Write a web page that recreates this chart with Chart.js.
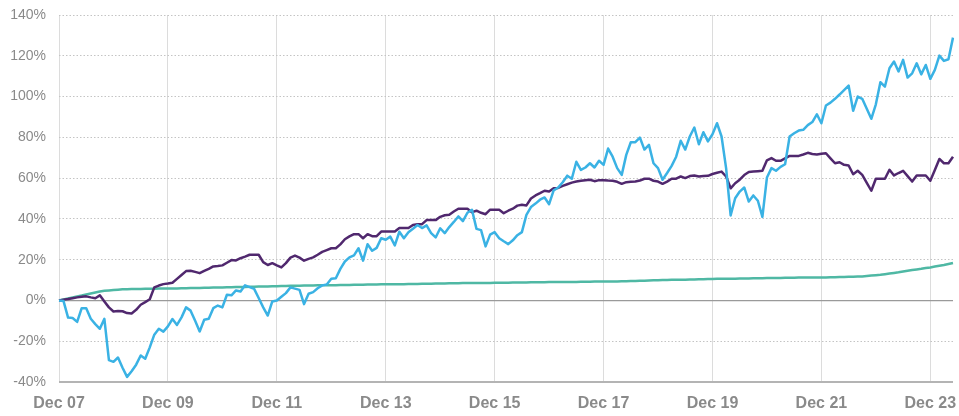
<!DOCTYPE html>
<html>
<head>
<meta charset="utf-8">
<script src="https://cdn.jsdelivr.net/npm/chart.js@4/dist/chart.umd.min.js"></script>
<style>
  html, body { margin: 0; padding: 0; background: #fff; }
  #wrap { width: 959px; height: 416px; position: relative; }
</style>
</head>
<body>
<div id="wrap"><canvas id="perfChart"></canvas></div>
<script>
// Monthly points, Dec 2007 to May 2024
const monthNames = ['Jan', 'Feb', 'Mar', 'Apr', 'May', 'Jun', 'Jul', 'Aug', 'Sep', 'Oct', 'Nov', 'Dec'];
const categories = [];
for (let i = 0; i < 198; i++) {
    const m = (11 + i) % 12;
    const y = 2007 + Math.floor((11 + i) / 12);
    categories.push(monthNames[m] + ' ' + String(y).slice(2));
}

// Tick labels shown on the x axis
const tickLabels = ['Dec 07', 'Dec 09', 'Dec 11', 'Dec 13', 'Dec 15', 'Dec 17', 'Dec 19', 'Dec 21', 'Dec 23'];

// Cumulative return, %
const blueSeries = [
    0, -0.3, -8.4, -8.6, -10.5, -3.8, -3.8, -9, -11.6, -13.9,
    -9, -29.3, -30.1, -28, -33, -37.5, -34.7, -31.5, -27, -28.6,
    -23, -16.8, -13.9, -15.3, -12.7, -9.1, -12, -8.3, -3.4, -5,
    -10, -15.2, -9.5, -9, -3.8, -2.5, -3.4, 2.8, 2.5, 4.9,
    4.4, 7.4, 6.5, 5.7, 1.2, -3.4, -7.4, -0.5, 0, 1.8,
    3.6, 6.4, 5.8, 5.2, -1.8, 3.3, 4.1, 6, 7.4, 7.8,
    10.6, 10.9, 15.5, 19.1, 21.1, 22.1, 25.6, 19.5, 27.6, 24.4,
    25.8, 30.5, 29.8, 31.3, 27, 33.7, 30.5, 33.5, 35.2, 37,
    35.5, 36.8, 33, 30.9, 35.4, 33, 36, 38.5, 41.2, 38.9,
    43, 44.5, 35.1, 34.5, 26.5, 32.3, 33.5, 30.5, 29, 27.6,
    29.5, 32, 33.5, 42, 45.8, 47.5, 49.4, 50.5, 47.2, 54,
    55.4, 58, 61.2, 59.7, 68, 64, 65.2, 67.3, 65.2, 68.5,
    66.5, 74.5, 70.5, 64.9, 61.6, 71.4, 77.6, 77.6, 79.9, 74,
    76.3, 67.3, 64.9, 59.2, 62.5, 66, 70.5, 78.3, 74, 80.4,
    84.8, 76.6, 82.5, 78, 81.5, 86.9, 80.4, 64.9, 41.7, 50.1,
    53.4, 55.4, 48.5, 51.5, 48.9, 41, 60.3, 64.9, 63.6, 65.5,
    66.8, 80.4, 82, 83.3, 83.7, 86, 87.5, 91.3, 86.9, 95.6,
    97, 98.9, 101, 103.2, 105.4, 93, 100, 98.9, 94, 89.1,
    96.2, 107, 104.9, 113.9, 117.2, 112.3, 118, 109.3, 111.4, 116.3,
    110.9, 115.5, 108.7, 113.1, 120.1, 117.5, 118.3, 128.9
];

const purpleSeries = [
    0, 0.4, 0.7, 1.1, 1.5, 1.8, 2, 1.5, 1.1, 2.5,
    -0.5, -3.4, -5.4, -5.2, -5.3, -6.2, -6.4, -4.6, -2.1, -0.8,
    0.6, 6.4, 7.3, 8, 8.3, 8.7, 10.6, 12.5, 14.4, 14.6,
    14, 13.4, 14.5, 15.5, 16.7, 16.9, 17.2, 18.5, 19.8, 19.6,
    20.7, 21.5, 22.4, 22.4, 22.4, 18.8, 17.4, 18.3, 17.2, 16.2,
    18.3, 21, 22, 21, 19.5, 20.4, 21.1, 22.4, 23.8, 24.7,
    25.6, 25.6, 27.5, 30, 31.4, 32.5, 32.5, 30.5, 32.5, 31.5,
    31.5, 33.8, 33.8, 33.8, 33.8, 35.5, 35.5, 35.5, 37, 37.4,
    37.4, 39.4, 39.4, 39.4, 41, 41.8, 42, 43.6, 45, 45,
    45, 43.3, 44, 43, 42.3, 44.5, 44.5, 44.5, 42.8, 44,
    45, 46.5, 46.9, 46.6, 50, 51.5, 52.6, 53.8, 53.4, 55,
    55.2, 56.2, 57, 57.8, 58.3, 58.7, 59, 59.2, 58.5, 59,
    59, 58.8, 58.7, 58.2, 57.2, 58, 58.2, 58.3, 58.8, 59.7,
    59.7, 58.7, 58.3, 57.2, 58.3, 59.7, 59.7, 60.8, 60, 61,
    61.3, 60.8, 61, 61.1, 62, 62.6, 63.2, 60.8, 55, 57.5,
    59.2, 61.5, 63, 63.2, 63.4, 63.6, 68.7, 69.8, 68.5, 68.5,
    69.7, 70.9, 70.9, 70.9, 71.6, 72.4, 71.8, 71.6, 71.9, 72.2,
    69.7, 67.3, 67.8, 66.5, 66.2, 61.9, 63.6, 61.6, 57.7, 53.8,
    59.7, 59.7, 59.7, 64.1, 61.3, 62.5, 63.6, 61, 58.3, 61.3,
    61.3, 61.3, 58.7, 64, 69.4, 67.3, 67.3, 70.5
];

const tealSeries = [
    0, 0.5, 1, 1.5, 2, 2.4, 2.9, 3.4, 3.9, 4.4,
    4.7, 4.9, 5.1, 5.3, 5.5, 5.55, 5.6, 5.6, 5.65, 5.7,
    5.7, 5.75, 5.8, 5.8, 5.85, 5.9, 5.9, 5.95, 6, 6.05,
    6.1, 6.15, 6.2, 6.25, 6.3, 6.35, 6.4, 6.45, 6.5, 6.55,
    6.6, 6.65, 6.7, 6.75, 6.8, 6.85, 6.9, 6.95, 7, 7.05,
    7.1, 7.15, 7.2, 7.25, 7.3, 7.3, 7.35, 7.4, 7.4, 7.5,
    7.5, 7.5, 7.6, 7.6, 7.6, 7.7, 7.7, 7.7, 7.8, 7.8,
    7.8, 7.9, 7.9, 7.9, 8, 8, 8, 8.1, 8.1, 8.1,
    8.2, 8.2, 8.2, 8.3, 8.3, 8.3, 8.4, 8.4, 8.4, 8.5,
    8.5, 8.5, 8.6, 8.6, 8.6, 8.6, 8.7, 8.7, 8.7, 8.7,
    8.8, 8.8, 8.8, 8.8, 8.9, 8.9, 8.9, 8.9, 9, 9,
    9, 9, 9.1, 9.1, 9.1, 9.2, 9.2, 9.2, 9.3, 9.3,
    9.3, 9.3, 9.3, 9.3, 9.4, 9.4, 9.5, 9.5, 9.6, 9.7,
    9.8, 9.9, 9.9, 10, 10, 10.1, 10.1, 10.2, 10.2, 10.3,
    10.3, 10.4, 10.4, 10.5, 10.5, 10.6, 10.6, 10.7, 10.7, 10.7,
    10.8, 10.8, 10.8, 10.9, 10.9, 10.9, 11, 11, 11, 11,
    11.1, 11.1, 11.1, 11.2, 11.2, 11.2, 11.2, 11.3, 11.3, 11.3,
    11.4, 11.4, 11.5, 11.5, 11.6, 11.6, 11.7, 11.8, 12, 12.2,
    12.4, 12.6, 12.9, 13.2, 13.5, 13.8, 14.2, 14.6, 14.9, 15.2,
    15.5, 15.9, 16.2, 16.6, 17, 17.4, 17.9, 18.4
];

const axisGrey = '#8a8a8a';
const noColour = 'rgba(0,0,0,0)';

new Chart(document.getElementById('perfChart'), {
    type: 'line',
    data: {
        labels: categories,
        datasets: [
            // first dataset is drawn on top
            { data: blueSeries, borderColor: '#3ab2e4', borderWidth: 2.5 },
            { data: purpleSeries, borderColor: '#50286e', borderWidth: 2.5 },
            { data: tealSeries, borderColor: '#4fb8a4', borderWidth: 2.5 }
        ]
    },
    options: {
        responsive: true,
        maintainAspectRatio: false,
        animation: false,
        devicePixelRatio: 1,
        layout: { padding: { top: 15, right: 6, left: 0, bottom: 0 } },
        elements: {
            point: { radius: 0 },
            line: { tension: 0, borderJoinStyle: 'round' }
        },
        plugins: {
            legend: { display: false },
            tooltip: { enabled: false }
        },
        scales: {
            x: {
                type: 'category',
                offset: false,
                afterFit: function(scale) { scale.height = 34; },
                border: { display: false },
                grid: {
                    // invisible tick marks push the labels down without adding side padding
                    drawTicks: true,
                    tickLength: 10,
                    tickColor: noColour,
                    lineWidth: 1,
                    color: function(ctx) {
                        if (ctx.tick && tickLabels.includes(categories[ctx.index])) return '#dcdcdc';
                        return noColour;
                    }
                },
                ticks: {
                    autoSkip: false,
                    maxRotation: 0,
                    minRotation: 0,
                    padding: 2,
                    color: axisGrey,
                    font: { family: 'Liberation Sans', size: 16, weight: 'bold' },
                    callback: function(value, index) {
                        const label = categories[index];
                        return tickLabels.includes(label) ? label : '';
                    }
                }
            },
            y: {
                min: -40,
                max: 140,
                afterFit: function(scale) { scale.width = 59; },
                border: {
                    display: false,
                    dash: function(ctx) {
                        if (!ctx.tick) return [];
                        return (ctx.tick.value === 0 || ctx.tick.value === -40) ? [] : [1.5, 2];
                    }
                },
                grid: {
                    drawTicks: true,
                    tickLength: 12,
                    tickColor: noColour,
                    color: function(ctx) {
                        if (!ctx.tick) return '#c8c8c8';
                        if (ctx.tick.value === 0) return '#9a9a9a';
                        if (ctx.tick.value === -40) return '#b4b4b4';
                        return '#c4c4c4';
                    },
                    lineWidth: function(ctx) {
                        if (ctx.tick && ctx.tick.value === -40) return 2;
                        if (ctx.tick && ctx.tick.value === 0) return 1.2;
                        return 1;
                    }
                },
                ticks: {
                    stepSize: 20,
                    padding: 1,
                    color: axisGrey,
                    font: { family: 'Liberation Sans', size: 14 },
                    callback: function(value) { return value + '%'; }
                }
            }
        }
    }
});
</script>
</body>
</html>
